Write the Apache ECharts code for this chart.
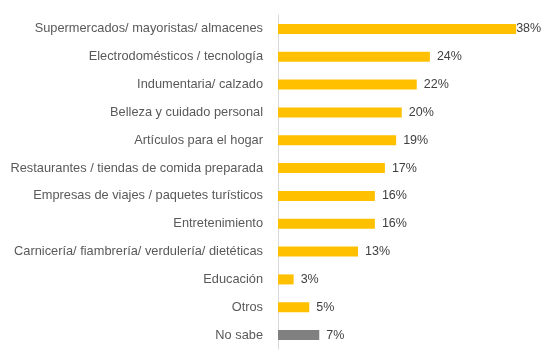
<!DOCTYPE html>
<html><head><meta charset="utf-8">
<script src="https://cdn.jsdelivr.net/npm/echarts@6/dist/echarts.min.js"></script>
<style>html,body{margin:0;padding:0;background:#fff}#c{width:544px;height:364px}</style>
</head><body><div id="c"></div>
<script>
var categories = ["Supermercados/ mayoristas/ almacenes","Electrodomésticos / tecnología","Indumentaria/ calzado","Belleza y cuidado personal","Artículos para el hogar","Restaurantes / tiendas de comida preparada","Empresas de viajes / paquetes turísticos","Entretenimiento","Carnicería/ fiambrería/ verdulería/ dietéticas","Educación","Otros","No sabe"];
var values = [38.1, 24.3, 22.2, 19.8, 18.9, 17.1, 15.5, 15.5, 12.8, 2.5, 5.0, 6.6];
var valueLabels = ["38%","24%","22%","20%","19%","17%","16%","16%","13%","3%","5%","7%"];
var colors = ["#FFC000","#FFC000","#FFC000","#FFC000","#FFC000","#FFC000","#FFC000","#FFC000","#FFC000","#FFC000","#FFC000","#808080"];

var chart = echarts.init(document.getElementById('c'));
chart.setOption({
  animation: false,
  grid: {left: 278, right: 16, top: 15, bottom: 15, containLabel: false},
  xAxis: {type: 'value', min: 0, max: 40, show: false},
  yAxis: {
    type: 'category', inverse: true, data: categories,
    axisLine: {show: true, lineStyle: {color: '#d9d9d9', width: 1}},
    axisTick: {show: false},
    axisLabel: {color: '#595959', fontSize: 12.8, fontFamily: 'Liberation Sans', margin: 15}
  },
  series: [{
    type: 'bar', barCategoryGap: '64%',
    data: values.map(function(v, i){
      return {value: v, itemStyle: {color: colors[i]},
        label: {distance: i === 0 ? 0 : 7}};
    }),
    label: {show: true, position: 'right', color: '#404040', fontSize: 12.5, fontFamily: 'Liberation Sans',
      formatter: function(p){ return valueLabels[p.dataIndex]; }}
  }]
});
</script></body></html>
